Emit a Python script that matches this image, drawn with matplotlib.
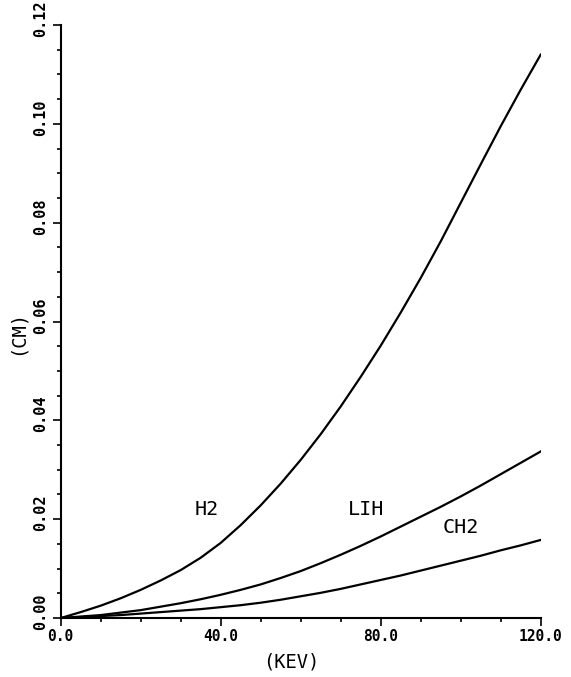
import matplotlib
matplotlib.use("Agg")
import matplotlib.pyplot as plt
from matplotlib.ticker import MultipleLocator, FormatStrFormatter
from matplotlib.transforms import ScaledTranslation

# energy grid (KEV) and ranges (CM) for each absorber
kev = [0, 5, 10, 15, 20, 25, 30, 35, 40, 45, 50, 55, 60,
       65, 70, 75, 80, 85, 90, 95, 100, 105, 110, 115, 120]
h2 = [0.0, 0.0012, 0.0025, 0.0040, 0.0057, 0.0076, 0.0097, 0.0122, 0.0152,
      0.0188, 0.0228, 0.0272, 0.0320, 0.0372, 0.0428, 0.0488, 0.0551,
      0.0618, 0.0688, 0.0762, 0.0840, 0.0918, 0.0995, 0.1069, 0.1140]
lih = [0.0, 0.0003, 0.0006, 0.0011, 0.0016, 0.0023, 0.0030, 0.0038, 0.0047,
       0.0057, 0.0068, 0.0081, 0.0095, 0.0111, 0.0128, 0.0146, 0.0165,
       0.0185, 0.0205, 0.0225, 0.0246, 0.0268, 0.0291, 0.0314, 0.0337]
ch2 = [0.0, 0.0002, 0.0004, 0.0006, 0.0009, 0.0012, 0.0015, 0.0018, 0.0022,
       0.0026, 0.0031, 0.0037, 0.0044, 0.0051, 0.0059, 0.0068, 0.0077,
       0.0086, 0.0096, 0.0106, 0.0116, 0.0126, 0.0137, 0.0147, 0.0158]

names = ["H2", "LIH", "CH2"]
label_pos = [(36.6, 0.0219), (76.3, 0.0219), (100.1, 0.0184)]

plt.rcParams['font.family'] = ['DejaVu Sans Mono']

fig = plt.figure(figsize=(5.71, 6.77), dpi=100)
ax = fig.add_axes([0.1063, 0.0871, 0.8406, 0.876])

for ys in (h2, lih, ch2):
    ax.plot(kev, ys, color='black', lw=1.6)

for name, (tx, ty) in zip(names, label_pos):
    ax.text(tx, ty, name, ha='center', va='center', fontsize=14.5)

ax.set_xlim(0, 120)
ax.set_ylim(0, 0.12)

ax.spines['top'].set_visible(False)
ax.spines['right'].set_visible(False)
for s in ('left', 'bottom'):
    ax.spines[s].set_linewidth(1.5)

ax.xaxis.set_major_locator(MultipleLocator(40))
ax.xaxis.set_minor_locator(MultipleLocator(10))
ax.yaxis.set_major_locator(MultipleLocator(0.02))
ax.yaxis.set_minor_locator(MultipleLocator(0.005))
ax.xaxis.set_major_formatter(FormatStrFormatter('%.1f'))
ax.yaxis.set_major_formatter(FormatStrFormatter('%.2f'))

ax.tick_params(which='major', direction='out', length=6, width=1.2)
ax.tick_params(which='minor', direction='out', length=3, width=1.2)
ax.tick_params(axis='x', which='major', pad=2, labelsize=10.5)
ax.tick_params(axis='y', which='major', pad=3, labelsize=11, labelrotation=90)

for lab in ax.get_xticklabels():
    lab.set_fontweight('bold')
ax.get_xticklabels()[0].set_ha('left')

# nudge the rotated y labels up a little
shift = ScaledTranslation(0, 4.5 / 72, fig.dpi_scale_trans)
for lab in ax.get_yticklabels():
    lab.set_fontweight('bold')
    lab.set_va('center')
    lab.set_transform(lab.get_transform() + shift)

ax.set_xlabel('(KEV)', fontsize=13.5)
ax.set_ylabel('(CM)', fontsize=13.5)
ax.xaxis.set_label_coords(0.48, -0.058)
ax.yaxis.set_label_coords(-0.07, 0.482)

fig.savefig('out.png', dpi=100)
